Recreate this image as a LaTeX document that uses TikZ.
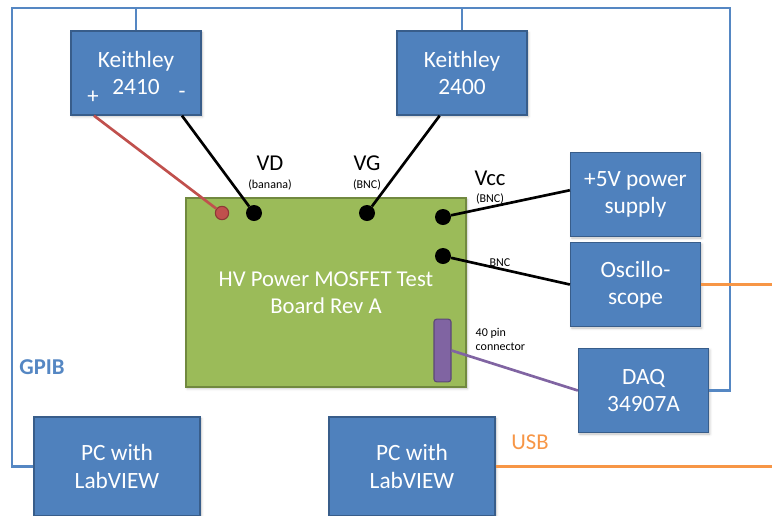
\documentclass[tikz,border=0pt]{standalone}
\usepackage{fontspec}
\setmainfont{Carlito}
\usetikzlibrary{calc, shadows.blur}
\tikzset{every node/.append style={align=center}}
\definecolor{boxblue}{RGB}{79,129,189}
\definecolor{boxedge}{RGB}{56,93,138}
\definecolor{brdgreen}{RGB}{155,187,89}
\definecolor{brdedge}{RGB}{113,137,63}
\definecolor{pinred}{RGB}{192,80,77}
\definecolor{pinredge}{RGB}{140,56,54}
\definecolor{conpurple}{RGB}{128,100,162}
\definecolor{conedge}{RGB}{92,71,118}
\definecolor{usborange}{RGB}{247,150,70}
\definecolor{gpibblue}{RGB}{85,135,195}

\tikzset{
  softshadow/.style={blur shadow={shadow xshift=1pt, shadow yshift=-1.2pt,
                     shadow opacity=25, shadow blur steps=4}},
  instr/.style={draw=boxedge, fill=boxblue, line width=1pt, text=white,
                font=\fontsize{17.5}{20.5}\selectfont, inner sep=0pt,
                minimum width=97.5pt, minimum height=63pt, softshadow},
  pcbox/.style={instr, minimum width=124.5pt, minimum height=74.25pt},
  board/.style={draw=brdedge, fill=brdgreen, line width=1pt, text=white,
                font=\fontsize{17}{20.5}\selectfont,
                minimum width=210pt, minimum height=141.75pt, softshadow},
  blackpin/.style={circle, fill=black, minimum size=12pt, inner sep=0pt},
  redpin/.style={circle, draw=pinredge, fill=pinred, line width=0.8pt,
                 minimum size=10pt, inner sep=0pt},
  header/.style={draw=conedge, fill=conpurple, line width=0.8pt,
                 rounded corners=2pt, minimum width=12.75pt,
                 minimum height=47pt, inner sep=0pt},
  wire/.style={line width=2pt},
  gpib/.style={gpibblue, line width=2pt},
  biglbl/.style={font=\fontsize{17}{20}\selectfont},
  smalllbl/.style={font=\fontsize{9}{10.5}\selectfont}
}

\begin{document}
\begin{tikzpicture}[x=0.75pt,y=-0.75pt]
\useasboundingbox (0,0) rectangle (772,515);
\clip (0,0) rectangle (772,515);

% ── Instruments ───────────────────────────────────────────────────────────────
\node[instr] (k2410) at (136,73)    {Keithley\\2410};
\node[instr] (k2400) at (462,73)    {Keithley\\2400};
\node[instr] (psu)   at (635.5,194.5) {+5V power\\supply};
\node[instr] (scope) at (635.5,284.5) {Oscillo-\\scope};
\node[instr] (daq)   at (643.5,390.5) {DAQ\\34907A};
\node[pcbox] (pc1)   at (117,466.5) {PC with\\LabVIEW};
\node[pcbox] (pc2)   at (412,466.5) {PC with\\LabVIEW};
\node[text=white, biglbl] (kplus)  at (93,97) {+};
\node[text=white, biglbl] (kminus) at (182,95) {-};

% ── Test board and its connectors ─────────────────────────────────────────────
\node[board] (brd) at (326,292.5) {HV Power MOSFET Test\\Board Rev A};
\node[redpin] (pinDp) at (222,213) {};
\foreach \nm/\x/\y in {pinD/254/213, pinG/367/213, pinVcc/443/217, pinOut/443/256} {
  \node[blackpin] (\nm) at (\x,\y) {};
}
\node[header] (conn) at (442.5,350.5) {};

% ── Labels ────────────────────────────────────────────────────────────────────
\node[biglbl]   (lblVD)   at (270,163) {VD};
\node[smalllbl] (lblBan)  at (270,185) {(banana)};
\node[biglbl]   (lblVG)   at (367,163) {VG};
\node[smalllbl] (lblBncG) at (367,185) {(BNC)};
\node[biglbl]   (lblVcc)  at (490,178) {Vcc};
\node[smalllbl] (lblBncV) at (490,199) {(BNC)};
\node[smalllbl] (lblBncO) at (500,263) {BNC};
\node[smalllbl, anchor=west, align=left] (lblConn) at (471,339) {40 pin\\connector};
\node[gpibblue, font=\fontsize{17}{20}\selectfont\bfseries] (lblGpib) at (42,367) {GPIB};
\node[usborange, biglbl] (lblUsb) at (530,442) {USB};

% ── Wires to the board ───────────────────────────────────────────────────────
\draw[wire, pinred] ($(k2410.south west)!0.18!(k2410.south east)$) -- (pinDp);
\draw[wire] ($(k2410.south west)!0.85!(k2410.south east)$) -- (pinD);
\draw[wire] ($(k2400.south west)!0.33!(k2400.south east)$) -- (pinG);
\draw[wire] (pinVcc) -- ($(psu.north west)!0.45!(psu.south west)$);
\draw[wire] (pinOut) -- (scope.west);
\draw[wire, conpurple] (conn.east) -- (daq.west);

% ── GPIB bus ──────────────────────────────────────────────────────────────────
\coordinate (gpibL) at (12,8);
\coordinate (gpibR) at (730,8);
\draw[gpib] (pc1.west) -| (gpibL) -- (gpibR) |- (daq.east);
\draw[gpib] (k2410.north) -- (k2410.north |- gpibL);
\draw[gpib] (k2400.north) -- (k2400.north |- gpibL);

% ── USB ───────────────────────────────────────────────────────────────────────
\coordinate (usbScope) at (772,284.5);
\coordinate (usbPc) at (772,466.5);
\draw[usborange, line width=2pt] (scope.east) -- (usbScope);
\draw[usborange, line width=2pt] (pc2.east) -- (usbPc);

\end{tikzpicture}
\end{document}
